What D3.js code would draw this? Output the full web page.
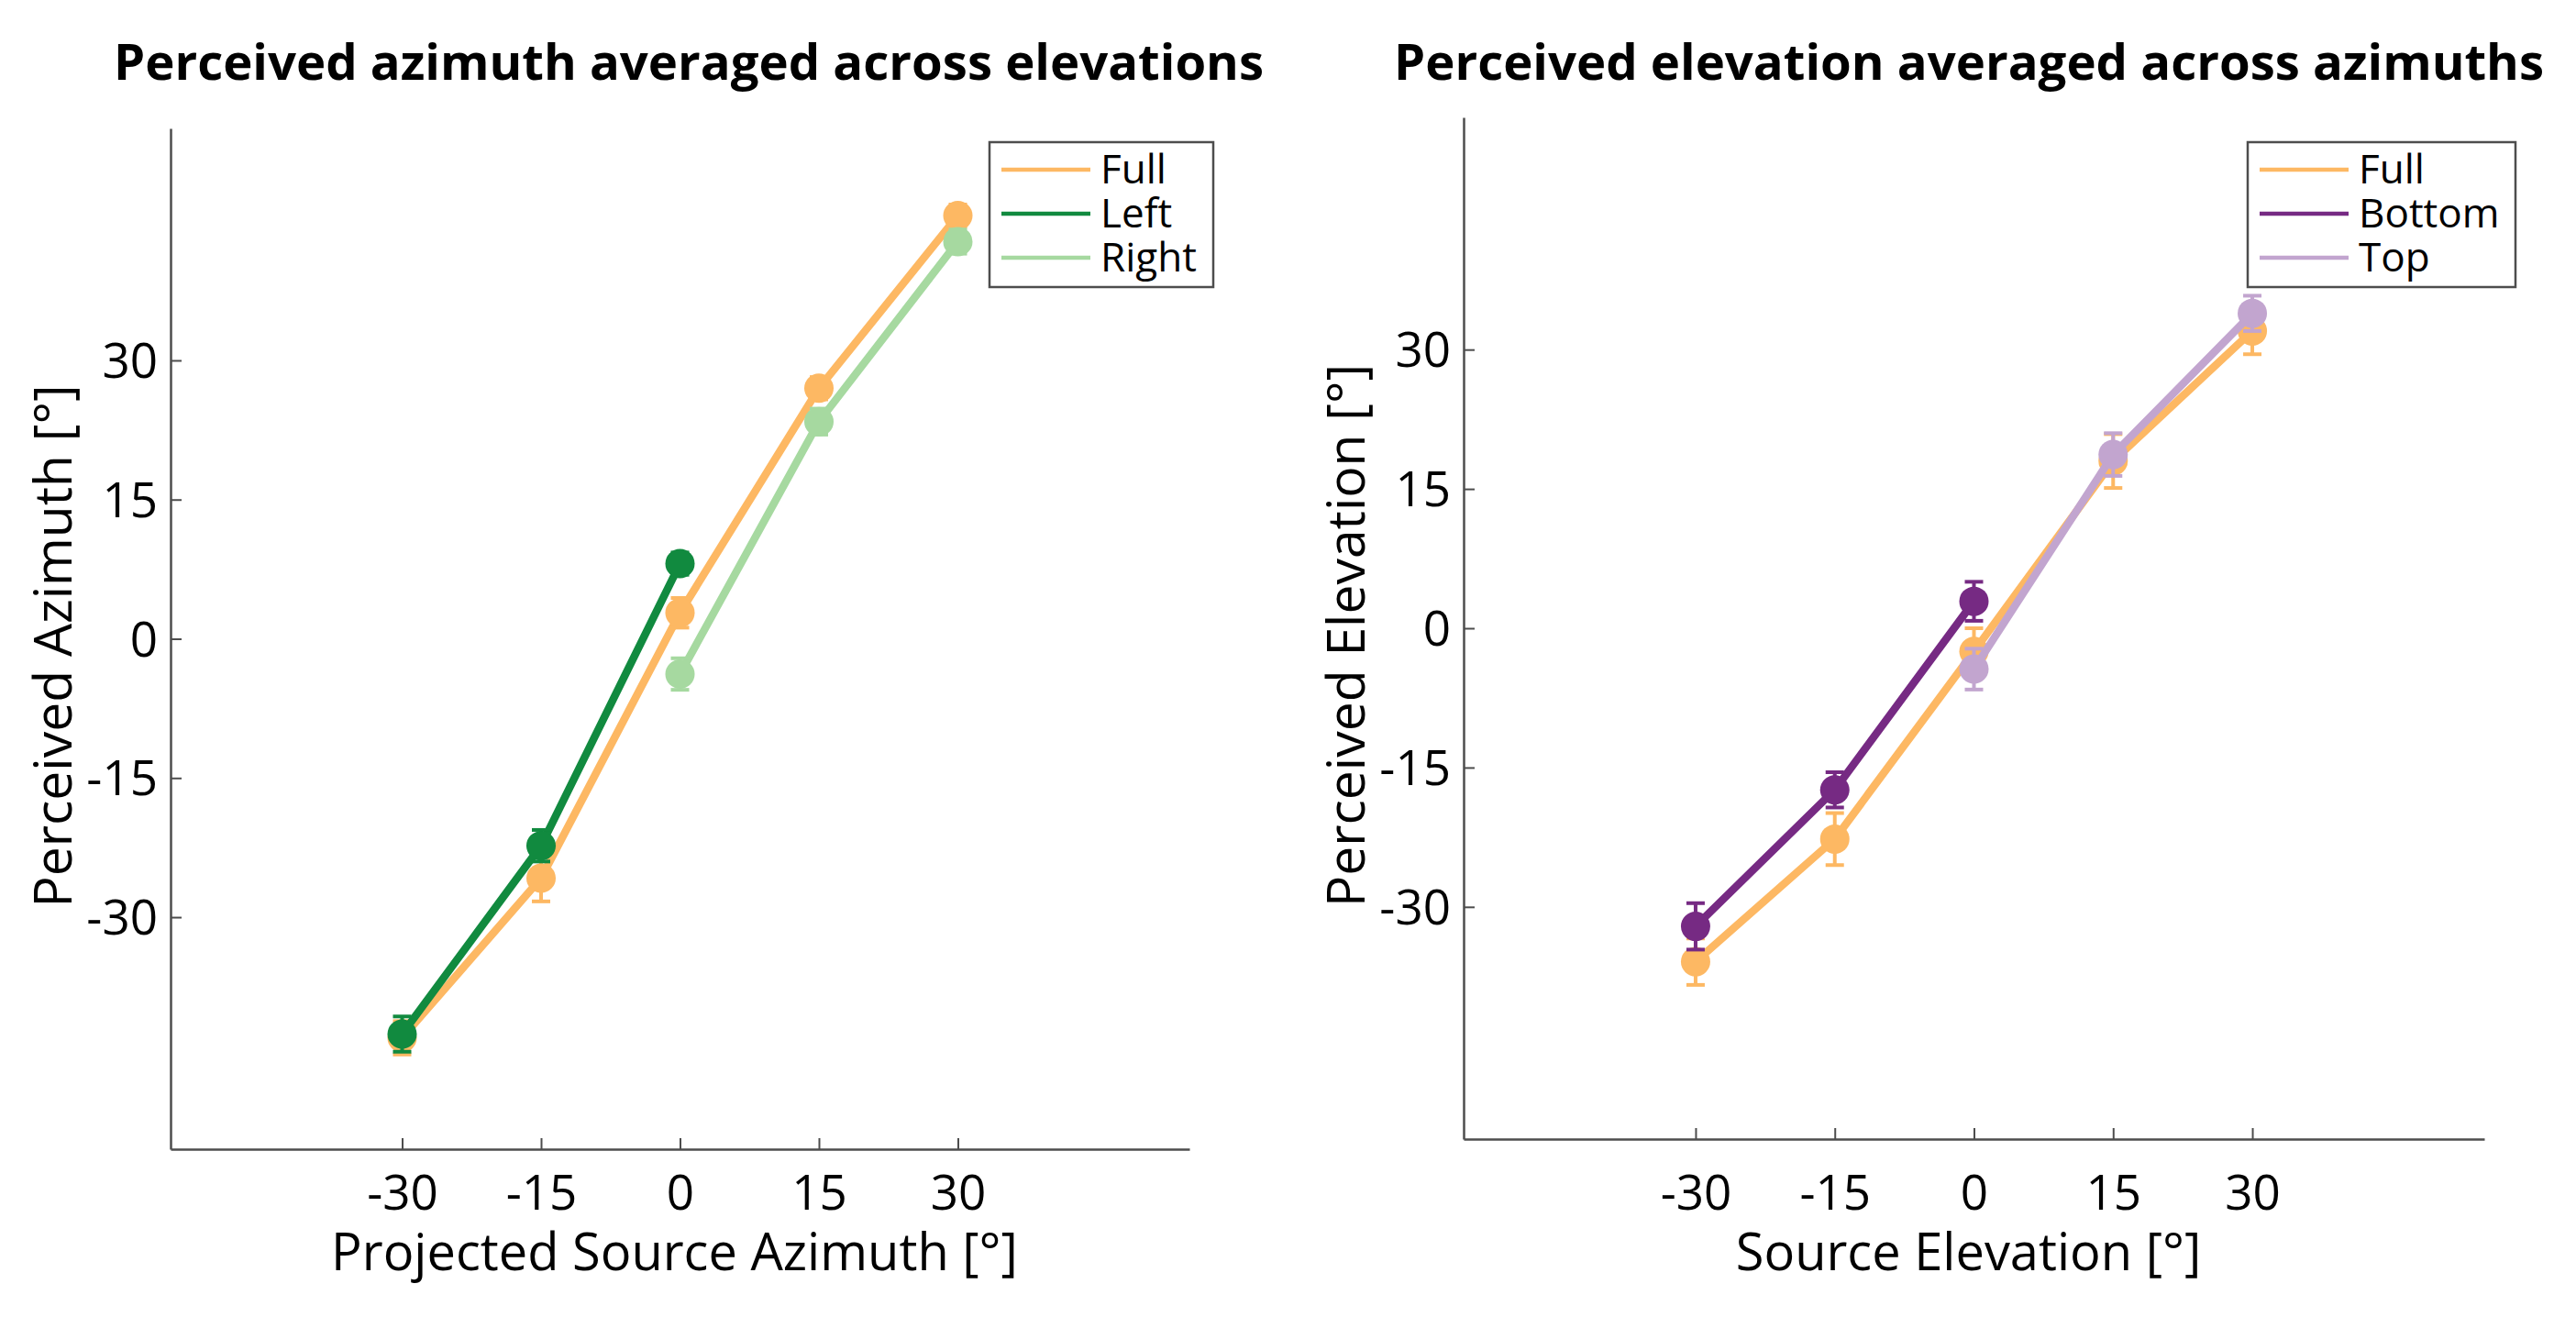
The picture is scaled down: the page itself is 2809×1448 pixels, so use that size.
<!DOCTYPE html>
<html>
<head>
<meta charset="utf-8">
<script src="https://cdn.jsdelivr.net/npm/d3@7"></script>
<style>
  body { margin: 0; background: #fff; }
  text { font-family: "Open Sans", "Noto Sans", sans-serif; fill: #000; }
</style>
</head>
<body>
<div id="chart"></div>
<script>
// source positions (deg)
const sourceAngles = [-30, -15, 0, 15, 30];
const tickValues = [-30, -15, 0, 15, 30];

// azimuth panel
const azFull = [-43.0, -25.8, 2.8, 27.0, 45.6];
const azFullErr = [1.8, 2.5, 1.6, 1.2, 1.2];
const azLeft = [-42.6, -22.3, 8.1];
const azLeftErr = [1.9, 1.7, 1.2];
const azRight = [-3.8, 23.4, 42.8];
const azRightErr = [1.7, 1.4, 1.3];

// elevation panel
const elFull = [-35.9, -22.7, -2.5, 18.0, 32.0];
const elFullErr = [2.5, 2.8, 2.5, 2.9, 2.5];
const elBottom = [-32.1, -17.4, 2.9];
const elBottomErr = [2.5, 1.9, 2.1];
const elTop = [-4.4, 18.7, 33.9];
const elTopErr = [2.2, 2.3, 1.9];

const colors = {
    full: "#fdb863",
    left: "#118a3f",
    right: "#a6d9a0",
    bottom: "#762a83",
    top: "#c2a5cf"
};

const W = 2809, H = 1448;
const svg = d3.select("#chart").append("svg")
    .attr("width", W)
    .attr("height", H);

function makeSeries(name, xs, ys, errs, color) {
    return {name: name, color: color,
        points: ys.map((y, i) => ({x: xs[i], y: y, e: errs[i]}))};
}

// matlab style hyphen minus
const fmt = d => String(d);

const panels = [
    {
        title: "Perceived azimuth averaged across elevations",
        titleX: 751,
        xLabel: "Projected Source Azimuth [°]",
        yLabel: "Perceived Azimuth [°]",
        left: 186, right: 1297, top: 140, bottom: 1253,
        legend: {x: 1079, y: 155, w: 244, h: 158},
        series: [
            makeSeries("Full", sourceAngles, azFull, azFullErr, colors.full),
            makeSeries("Left", sourceAngles.slice(0, 3), azLeft, azLeftErr, colors.left),
            makeSeries("Right", sourceAngles.slice(2), azRight, azRightErr, colors.right)
        ]
    },
    {
        title: "Perceived elevation averaged across azimuths",
        titleX: 2147,
        xLabel: "Source Elevation [°]",
        yLabel: "Perceived Elevation [°]",
        left: 1596, right: 2709, top: 128, bottom: 1242,
        legend: {x: 2451, y: 155, w: 292, h: 158},
        series: [
            makeSeries("Full", sourceAngles, elFull, elFullErr, colors.full),
            makeSeries("Bottom", sourceAngles.slice(0, 3), elBottom, elBottomErr, colors.bottom),
            makeSeries("Top", sourceAngles.slice(2), elTop, elTopErr, colors.top)
        ]
    }
];

panels.forEach(function(p) {
    let g = svg.append("g");

    let x = d3.scaleLinear().domain([-55, 55]).range([p.left, p.right]);
    let y = d3.scaleLinear().domain([-55, 55]).range([p.bottom, p.top]);

    // axes
    let xAxis = g.append("g")
        .attr("transform", `translate(0,${p.bottom})`)
        .call(d3.axisBottom(x).tickValues(tickValues).tickFormat(fmt)
            .tickSizeInner(-12).tickSizeOuter(0).tickPadding(28 + (1253 - p.bottom)));
    let yAxis = g.append("g")
        .attr("transform", `translate(${p.left},0)`)
        .call(d3.axisLeft(y).tickValues(tickValues).tickFormat(fmt)
            .tickSizeInner(-12).tickSizeOuter(0).tickPadding(14));

    [xAxis, yAxis].forEach(function(a) {
        a.select(".domain").attr("stroke", "#4d4d4d").attr("stroke-width", 2.5);
        a.selectAll(".tick line").attr("stroke", "#4d4d4d").attr("stroke-width", 2);
        a.selectAll(".tick text")
            .attr("fill", "#000")
            .style("font-family", "'Open Sans', sans-serif")
            .style("font-size", "53px");
    });
    xAxis.selectAll(".tick text").attr("dy", "0.71em");
    yAxis.selectAll(".tick text").attr("dy", "0.35em");

    // titles and labels
    g.append("text")
        .attr("x", p.titleX)
        .attr("y", 87)
        .attr("text-anchor", "middle")
        .style("font-size", "54.5px")
        .style("font-weight", "bold")
        .text(p.title);

    g.append("text")
        .attr("x", x(0) - 6)
        .attr("y", 1385)
        .attr("text-anchor", "middle")
        .style("font-size", "56px")
        .text(p.xLabel);

    g.append("text")
        .attr("transform", `translate(${p.left - 108},${y(0) + 8}) rotate(-90)`)
        .attr("text-anchor", "middle")
        .style("font-size", "57px")
        .text(p.yLabel);

    // data
    let line = d3.line().x(d => x(d.x)).y(d => y(d.y));

    p.series.forEach(function(s) {
        let sg = g.append("g");

        sg.append("path")
            .datum(s.points)
            .attr("d", line)
            .attr("fill", "none")
            .attr("stroke", s.color)
            .attr("stroke-width", 8.5)
            .attr("stroke-linejoin", "round");

        let eb = sg.selectAll(".err").data(s.points).enter().append("g");
        eb.append("line")
            .attr("x1", d => x(d.x)).attr("x2", d => x(d.x))
            .attr("y1", d => y(d.y - d.e)).attr("y2", d => y(d.y + d.e))
            .attr("stroke", s.color).attr("stroke-width", 4);
        eb.append("line")
            .attr("x1", d => x(d.x) - 10).attr("x2", d => x(d.x) + 10)
            .attr("y1", d => y(d.y + d.e)).attr("y2", d => y(d.y + d.e))
            .attr("stroke", s.color).attr("stroke-width", 4);
        eb.append("line")
            .attr("x1", d => x(d.x) - 10).attr("x2", d => x(d.x) + 10)
            .attr("y1", d => y(d.y - d.e)).attr("y2", d => y(d.y - d.e))
            .attr("stroke", s.color).attr("stroke-width", 4);

        sg.selectAll("circle").data(s.points).enter().append("circle")
            .attr("cx", d => x(d.x))
            .attr("cy", d => y(d.y))
            .attr("r", 16)
            .attr("fill", s.color);
    });

    // legend
    let lg = g.append("g").attr("transform", `translate(${p.legend.x},${p.legend.y})`);
    lg.append("rect")
        .attr("width", p.legend.w)
        .attr("height", p.legend.h)
        .attr("fill", "#fff")
        .attr("stroke", "#4d4d4d")
        .attr("stroke-width", 2.5);

    p.series.forEach(function(s, i) {
        let ly = 30 + i * 48;
        lg.append("line")
            .attr("x1", 13).attr("x2", 110)
            .attr("y1", ly).attr("y2", ly)
            .attr("stroke", s.color)
            .attr("stroke-width", 4.5);
        lg.append("text")
            .attr("x", 121)
            .attr("y", ly)
            .attr("dy", "0.35em")
            .style("font-size", "44px")
            .text(s.name);
    });
});
</script>
</body>
</html>
